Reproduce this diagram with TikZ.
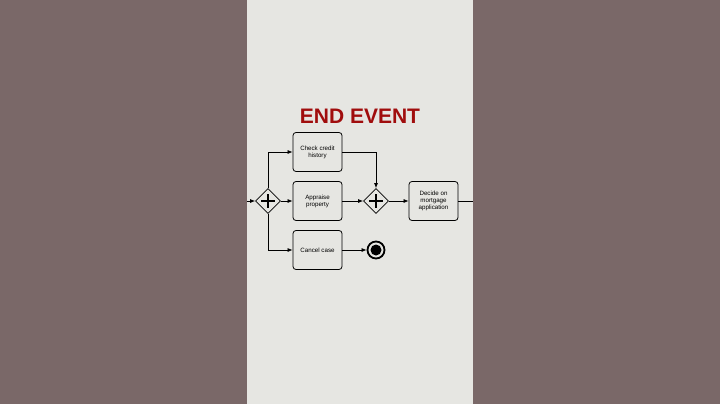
\documentclass[tikz,border=0pt]{standalone}
\usepackage{fontspec}
\setmainfont{Liberation Sans}
\usetikzlibrary{shapes.geometric,arrows.meta}
\definecolor{backdrop}{HTML}{7A6868}
\definecolor{panel}{HTML}{E6E6E2}
\definecolor{titlered}{HTML}{A00D0D}
\tikzset{
  task/.style={draw, rounded corners=3pt, line width=0.8pt, minimum width=49pt, minimum height=39pt, align=center, font=\fontsize{6.2}{7.2}\selectfont, fill=panel},
  gateway/.style={draw, diamond, line width=0.8pt, minimum size=25pt, inner sep=0pt, fill=panel},
  flow/.style={line width=0.7pt, -{Latex[length=5pt,width=4pt]}}
}
\begin{document}
\begin{tikzpicture}[x=1pt,y=-1pt]
  \fill[backdrop] (0,0) rectangle (720,404);
  \fill[panel] (247,0) rectangle (473,404);
  \useasboundingbox (0,0) rectangle (720,404);

  \node[text=titlered, font=\bfseries\fontsize{21}{24}\selectfont] (title) at (360,116) {END EVENT};

  % gateways
  \node[gateway] (split) at (268,201) {};
  \draw[line width=2.2pt] (split.center) ++(-7,0) -- ++(14,0) (split.center) ++(0,-7) -- ++(0,14);
  \node[gateway] (join) at (376,201) {};
  \draw[line width=2.2pt] (join.center) ++(-7,0) -- ++(14,0) (join.center) ++(0,-7) -- ++(0,14);

  % tasks
  \node[task] (credit) at (317.5,152) {Check credit\\history};
  \node[task] (appraise) at (317.5,201) {Appraise\\property};
  \node[task] (cancel) at (317.5,250) {Cancel case};
  \node[task] (decide) at (433.5,201) {Decide on\\mortgage\\application};

  % end event
  \node[draw, circle, line width=1.8pt, minimum size=17pt, inner sep=0pt, fill=panel] (finish) at (376,250) {};
  \fill (finish.center) circle (5.5pt);

  \coordinate (entry) at (247,201);
  \coordinate (exit) at (473,201);

  \draw[flow] (entry) -- (split);
  \draw[flow] (split.north) |- (credit);
  \draw[flow] (split) -- (appraise);
  \draw[flow] (split.south) |- (cancel);
  \draw[flow] (credit) -| (join.north);
  \draw[flow] (appraise) -- (join);
  \draw[flow] (join) -- (decide);
  \draw[flow] (cancel) -- (finish);
  \draw[line width=0.7pt] (decide) -- (exit);
\end{tikzpicture}
\end{document}
